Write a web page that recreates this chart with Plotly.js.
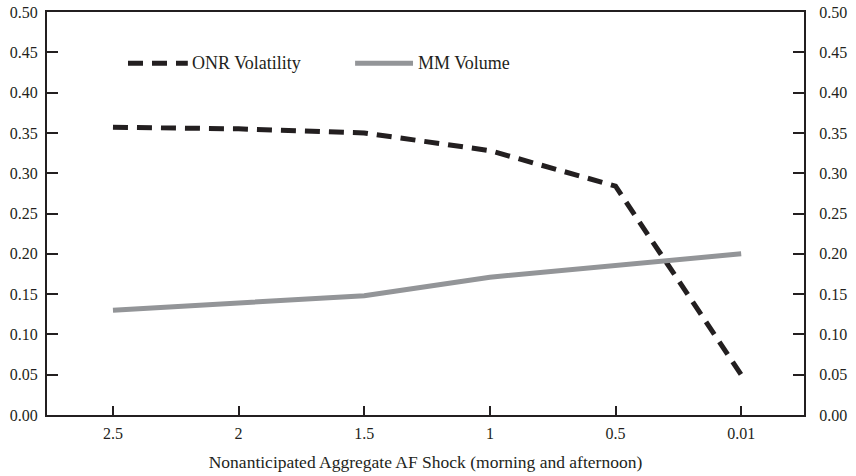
<!DOCTYPE html>
<html>
<head>
<meta charset="utf-8">
<script src="https://cdn.plot.ly/plotly-3.0.1.min.js"></script>
<style>
  html, body { margin: 0; padding: 0; background: #ffffff; }
  #chart { width: 856px; height: 476px; }
</style>
</head>
<body>
<div id="chart"></div>
<script>
// Data
const shockLevels = ["2.5", "2", "1.5", "1", "0.5", "0.01"];
const onrVolatility = [0.357, 0.355, 0.350, 0.328, 0.284, 0.050];
const mmVolume = [0.130, 0.139, 0.148, 0.171, 0.186, 0.200];
const seriesNames = ["ONR Volatility", "MM Volume"];
const yTickVals = [0, 0.05, 0.10, 0.15, 0.20, 0.25, 0.30, 0.35, 0.40, 0.45, 0.50];
const yTickText = ["0.00", "0.05", "0.10", "0.15", "0.20", "0.25", "0.30", "0.35", "0.40", "0.45", "0.50"];
const xTitle = "Nonanticipated Aggregate AF Shock (morning and afternoon)";

const FONT = "'Times New Roman', 'Liberation Serif', Times, serif";
const dashStyle = "15px,9px";
const black = "#231f20";
const gray = "#939598";

const traces = [
  {
    x: shockLevels, y: onrVolatility, name: seriesNames[0], type: "scatter", mode: "lines",
    line: { color: black, width: 5, dash: dashStyle }, showlegend: false
  },
  {
    x: shockLevels, y: mmVolume, name: seriesNames[1], type: "scatter", mode: "lines",
    line: { color: gray, width: 5 }, showlegend: false
  },
  {
    x: shockLevels, y: mmVolume, yaxis: "y2", type: "scatter", mode: "lines",
    line: { width: 0 }, hoverinfo: "skip", showlegend: false, opacity: 0
  }
];

const yCommon = {
  range: [0, 0.5],
  tickmode: "array",
  tickvals: yTickVals,
  ticktext: yTickText,
  ticks: "inside",
  ticklen: 11,
  tickwidth: 2,
  tickcolor: black,
  showline: true,
  linecolor: black,
  linewidth: 2,
  showgrid: false,
  zeroline: false,
  tickfont: { family: FONT, size: 16, color: black },
  fixedrange: true
};

const layout = {
  width: 856,
  height: 476,
  paper_bgcolor: "#ffffff",
  plot_bgcolor: "#ffffff",
  margin: { l: 47, r: 52, t: 12, b: 61 },
  font: { family: FONT, color: black },
  showlegend: false,
  xaxis: {
    type: "category",
    range: [-0.525, 5.5],
    ticks: "inside",
    ticklen: 9,
    tickwidth: 2,
    tickcolor: black,
    showline: true,
    mirror: true,
    linecolor: black,
    linewidth: 2,
    showgrid: false,
    zeroline: false,
    tickfont: { family: FONT, size: 16, color: black },
    ticklabelstandoff: 3,
    title: { text: xTitle, font: { family: FONT, size: 17.5, color: black }, standoff: 15 }
  },
  yaxis: Object.assign({}, yCommon, { side: "left", ticklabelstandoff: 4 }),
  yaxis2: Object.assign({}, yCommon, { side: "right", overlaying: "y", ticklabelstandoff: 10 }),
  shapes: [
    { type: "line", xref: "paper", yref: "paper", x0: 0.107, x1: 0.186, y0: 0.873, y1: 0.873,
      line: { color: black, width: 5, dash: dashStyle } },
    { type: "line", xref: "paper", yref: "paper", x0: 0.407, x1: 0.4835, y0: 0.873, y1: 0.873,
      line: { color: gray, width: 5 } }
  ],
  annotations: [
    { xref: "paper", yref: "paper", x: 0.189, y: 0.873, xanchor: "left", yanchor: "middle",
      text: seriesNames[0], showarrow: false, font: { family: FONT, size: 18, color: black } },
    { xref: "paper", yref: "paper", x: 0.4875, y: 0.873, xanchor: "left", yanchor: "middle",
      text: seriesNames[1], showarrow: false, font: { family: FONT, size: 18, color: black } }
  ]
};

Plotly.newPlot("chart", traces, layout, { displayModeBar: false, staticPlot: true });
</script>
</body>
</html>
